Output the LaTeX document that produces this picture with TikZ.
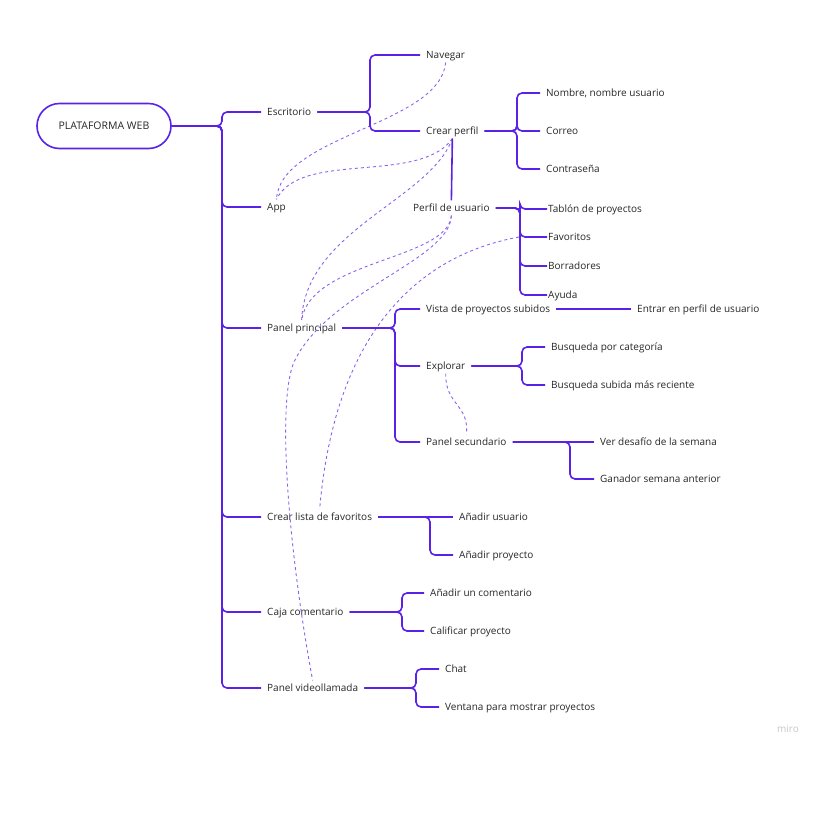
\documentclass[tikz,border=0pt]{standalone}
\usepackage{fontspec}
\setmainfont{Open Sans}
\usepackage{tikz}
\usetikzlibrary{positioning, calc}

\definecolor{morado}{HTML}{5A22E6}
\definecolor{lila}{HTML}{8B62EC}
\definecolor{tinta}{HTML}{262626}

\begin{document}
\begin{tikzpicture}[
    x=1pt, y=-1pt,
    rotulo/.style={anchor=west, inner xsep=6pt, inner ysep=2pt, text=tinta,
        font=\fontsize{10}{12}\selectfont, text height=1.6ex, text depth=.4ex},
    pegado/.style={rotulo, inner xsep=1pt},
    rama/.style={draw=morado, line width=1.6pt, rounded corners=5pt},
    enlace/.style={draw=lila, line width=0.9pt, dashed, dash pattern=on 3pt off 3pt},
    raizbox/.style={draw=morado, line width=1.6pt, rounded corners=22.5pt,
        minimum width=134pt, minimum height=45pt, text=tinta,
        font=\fontsize{10.5}{12}\selectfont}
]
    \useasboundingbox (0,0) rectangle (820,820);

    % === Nodes ===
    \node[raizbox] (raiz) at (104,126) {PLATAFORMA WEB};

    % first level
    \node[rotulo] (esc)  at (261,112) {Escritorio};
    \node[rotulo] (app)  at (261,207) {App};
    \node[rotulo] (pp)   at (261,328) {Panel principal};
    \node[rotulo] (cl)   at (261,517) {Crear lista de favoritos};
    \node[rotulo] (caja) at (261,612) {Caja comentario};
    \node[rotulo] (vid)  at (261,688) {Panel videollamada};

    % Escritorio
    \node[rotulo] (nav) at (420,55)  {Navegar};
    \node[rotulo] (cp)  at (420,131) {Crear perfil};
    \node[rotulo] (nom) at (540,93)  {Nombre, nombre usuario};
    \node[rotulo] (cor) at (540,131) {Correo};
    \node[rotulo] (con) at (540,169) {Contraseña};

    % Perfil de usuario
    \node[rotulo] (pu)  at (407,208) {Perfil de usuario};
    \node[pegado] (tab) at (547,209) {Tablón de proyectos};
    \node[pegado] (fav) at (547,237) {Favoritos};
    \node[pegado] (bor) at (547,266) {Borradores};
    \node[pegado] (ayu) at (547,295) {Ayuda};

    % Panel principal
    \node[rotulo] (vista)  at (420,309) {Vista de proyectos subidos};
    \node[rotulo] (entrar) at (631,309) {Entrar en perfil de usuario};
    \node[rotulo] (exp)    at (420,366) {Explorar};
    \node[rotulo] (bcat)   at (545,347) {Busqueda por categoría};
    \node[rotulo] (brec)   at (545,385) {Busqueda subida más reciente};
    \node[rotulo] (ps)     at (420,442) {Panel secundario};
    \node[rotulo] (ver)    at (594,442) {Ver desafío de la semana};
    \node[rotulo] (gan)    at (594,479) {Ganador semana anterior};

    % Crear lista de favoritos
    \node[rotulo] (ausr) at (453,517) {Añadir usuario};
    \node[rotulo] (apro) at (453,555) {Añadir proyecto};

    % Caja comentario
    \node[rotulo] (acom) at (424,593) {Añadir un comentario};
    \node[rotulo] (cal)  at (424,631) {Calificar proyecto};

    % Panel videollamada
    \node[rotulo] (chat) at (439,669) {Chat};
    \node[rotulo] (ven)  at (439,707) {Ventana para mostrar proyectos};

    % === Dashed links ===
    \draw[enlace] (nav.south) .. controls (440,125) and (280,135) .. (app.north);
    \draw[enlace] (cp.south) .. controls (420,185) and (300,150) .. (app.north);
    \draw[enlace] (cp.south) .. controls (430,200) and (305,230) .. (pp.north);
    \draw[enlace] (pu.south) .. controls (448,260) and (310,260) .. (pp.north);
    \draw[enlace] ([xshift=-28pt]fav.west) .. controls (420,255) and (335,330) .. (cl.north);
    \draw[enlace] (pu.south) .. controls (450,260) and (330,290) .. (295,360)
        .. controls (275,400) and (290,560) .. (vid.north);
    \draw[enlace] (exp.south) .. controls (445,405) and (470,405) .. (ps.north);

    % === Branches ===
    \foreach \hijo in {esc, app, pp, cl, caja, vid}
        \draw[rama] (raiz.east) -- (222,126) |- (\hijo.west);

    \foreach \hijo in {nav, cp}
        \draw[rama] (esc.east) -- (370,112) |- (\hijo.west);
    \foreach \hijo in {nom, cor, con}
        \draw[rama] (cp.east) -- (517,131) |- (\hijo.west);
    \draw[rama] (cp.south) -- (pu.north);

    \foreach \hijo in {tab, fav, bor, ayu}
        \draw[rama] (pu.east) -- (520,208) |- (\hijo.west);

    \foreach \hijo in {vista, exp, ps}
        \draw[rama] (pp.east) -- (395,328) |- (\hijo.west);
    \draw[rama] (vista.east) -- (entrar.west);
    \foreach \hijo in {bcat, brec}
        \draw[rama] (exp.east) -- (522,366) |- (\hijo.west);
    \draw[rama] (ps.east) -- (ver.west);
    \draw[rama] (ps.east) -- (570,442) |- (gan.west);

    \draw[rama] (cl.east) -- (ausr.west);
    \draw[rama] (cl.east) -- (430,517) |- (apro.west);

    \foreach \hijo in {acom, cal}
        \draw[rama] (caja.east) -- (402,612) |- (\hijo.west);
    \foreach \hijo in {chat, ven}
        \draw[rama] (vid.east) -- (416,688) |- (\hijo.west);

    % watermark
    \node[text=gray!45, font=\fontsize{10}{12}\selectfont] (miro) at (788,729) {miro};

\end{tikzpicture}
\end{document}
